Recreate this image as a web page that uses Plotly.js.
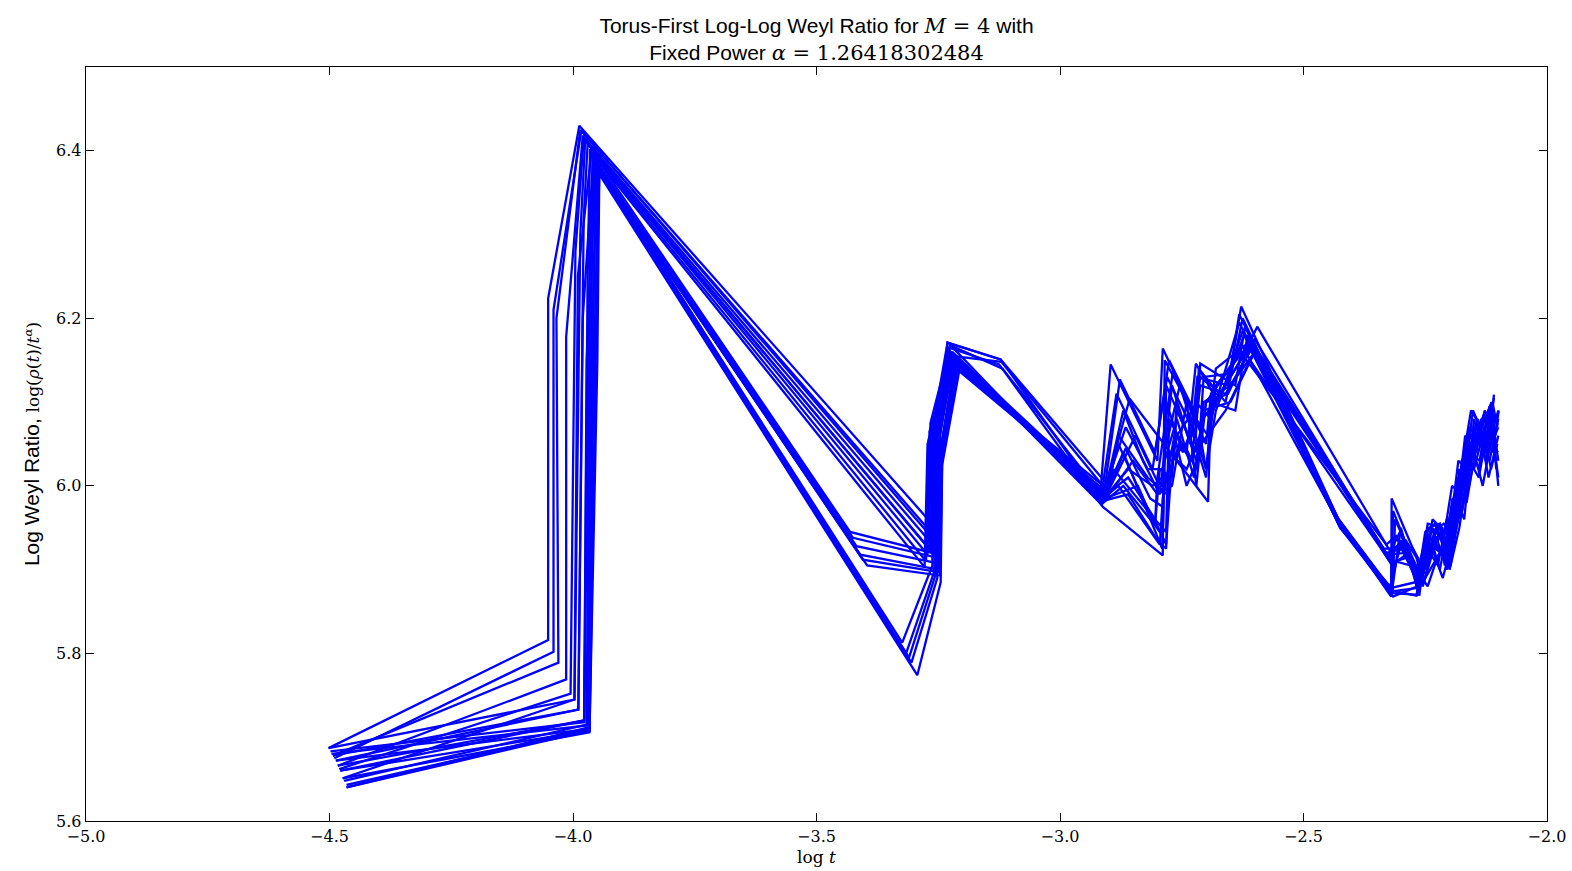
<!DOCTYPE html>
<html>
<head>
<meta charset="utf-8">
<script src="https://cdn.plot.ly/plotly-3.0.1.min.js"></script>
<style>html,body{margin:0;padding:0;background:#fff;}#chart{width:1572px;height:871px;}</style>
</head>
<body>
<div id="chart"></div>
<script>
// Series: log t (x) and log Weyl ratio (y) for each of 20 runs
const x01 = [-4.502,-4.051,-4.051,-3.987,-3.248,-3.246,-3.231,-3.122,-2.918,-2.896,-2.800,-2.789,-2.712,-2.705,-2.651,-2.628,-2.426,-2.320,-2.319,-2.268,-2.255,-2.230,-2.200,-2.185,-2.170,-2.150,-2.120,-2.109];
const y01 = [5.687,5.816,6.224,6.430,5.945,6.083,6.171,6.151,5.985,6.145,6.030,6.164,6.070,6.130,6.134,6.214,5.957,5.870,5.985,5.915,5.880,5.930,5.910,6.010,6.000,6.060,6.040,6.109];
const x02 = [-4.493,-4.030,-4.034,-3.985,-3.255,-3.253,-3.228,-3.125,-2.912,-2.789,-2.785,-2.720,-2.715,-2.660,-2.625,-2.430,-2.318,-2.268,-2.245,-2.215,-2.200,-2.180,-2.160,-2.140,-2.115,-2.100];
const y02 = [5.678,5.789,6.200,6.425,5.938,6.070,6.165,6.145,5.975,5.917,6.150,6.080,6.140,6.100,6.200,5.962,5.875,5.869,5.955,5.950,5.900,5.950,6.030,6.010,6.090,6.000];
const x03 = [-4.483,-4.014,-4.014,-3.980,-3.262,-3.258,-3.222,-2.910,-2.877,-2.805,-2.780,-2.721,-2.712,-2.640,-2.620,-2.425,-2.322,-2.300,-2.260,-2.240,-2.220,-2.190,-2.170,-2.150,-2.125,-2.100];
const y03 = [5.666,5.769,6.178,6.418,5.930,6.060,6.160,5.990,6.127,6.040,6.130,6.060,6.146,6.120,6.190,5.950,5.880,5.930,5.890,5.940,5.900,5.990,5.960,6.080,6.040,6.090];
const x04 = [-4.473,-3.997,-3.985,-3.975,-3.268,-3.266,-3.225,-2.915,-2.857,-2.696,-2.690,-2.640,-2.615,-2.335,-2.300,-2.250,-2.225,-2.205,-2.180,-2.160,-2.140,-2.125,-2.105];
const y04 = [5.651,5.745,6.300,6.412,5.925,6.075,6.168,5.980,6.104,5.981,6.100,6.090,6.180,5.925,5.925,5.890,5.955,5.930,5.990,6.050,6.020,6.080,6.050];
const x05 = [-4.487,-3.989,-3.978,-3.970,-3.272,-3.268,-3.220,-3.120,-2.905,-2.880,-2.805,-2.800,-2.768,-2.700,-2.690,-2.630,-2.330,-2.310,-2.262,-2.235,-2.210,-2.195,-2.175,-2.160,-2.135,-2.112,-2.102];
const y05 = [5.672,5.733,6.320,6.408,5.918,6.065,6.155,6.148,5.995,6.050,5.953,6.010,6.137,6.050,6.110,6.160,5.930,5.940,5.880,5.960,5.945,6.000,5.990,6.070,6.050,6.100,6.070];
const x06 = [-4.478,-3.977,-3.970,-3.965,-3.275,-3.270,-3.215,-2.908,-2.870,-2.790,-2.785,-2.754,-2.700,-2.680,-2.610,-2.328,-2.290,-2.255,-2.240,-2.215,-2.195,-2.180,-2.160,-2.140,-2.118,-2.100];
const y06 = [5.660,5.720,6.250,6.402,5.910,6.055,6.150,5.990,6.040,5.925,6.040,6.120,6.020,6.120,6.170,5.918,5.920,5.885,5.900,5.925,5.920,6.020,6.000,6.060,6.030,6.080];
const x07 = [-4.465,-3.966,-3.963,-3.960,-3.278,-3.272,-3.212,-2.910,-2.860,-2.810,-2.770,-2.760,-2.720,-2.700,-2.640,-2.600,-2.325,-2.280,-2.248,-2.232,-2.212,-2.190,-2.175,-2.150,-2.132,-2.110];
const y07 = [5.640,5.708,6.200,6.396,5.903,6.050,6.145,5.985,6.020,6.000,6.020,6.100,6.030,6.100,6.150,6.175,5.912,5.905,5.895,5.945,5.955,5.940,6.030,6.040,6.000,6.070];
const x08 = [-4.502,-3.997,-3.990,-3.962,-3.431,-3.262,-3.258,-3.231,-3.122,-2.900,-2.880,-2.820,-2.780,-2.760,-2.737,-2.700,-2.690,-2.620,-2.595,-2.322,-2.290,-2.258,-2.228,-2.205,-2.188,-2.168,-2.145,-2.128,-2.105];
const y08 = [5.687,5.745,6.250,6.400,5.945,5.920,6.080,6.171,6.151,6.000,6.060,6.010,5.990,6.060,6.080,6.010,6.090,6.160,6.190,5.922,5.935,5.905,5.940,5.900,5.960,6.060,6.040,6.090,6.060];
const x09 = [-4.493,-3.989,-3.980,-3.958,-3.425,-3.258,-3.254,-3.226,-2.905,-2.850,-2.800,-2.770,-2.740,-2.720,-2.705,-2.650,-2.600,-2.428,-2.317,-2.312,-2.265,-2.250,-2.222,-2.198,-2.178,-2.158,-2.138,-2.118,-2.104];
const y09 = [5.678,5.733,6.200,6.392,5.938,5.915,6.060,6.160,5.985,6.030,5.990,6.000,6.100,6.000,6.090,6.100,6.160,5.955,5.872,5.960,5.900,5.935,5.925,5.905,5.980,6.040,6.030,6.095,6.020];
const x10 = [-4.483,-3.977,-3.972,-3.955,-3.418,-3.255,-3.250,-3.218,-2.912,-2.865,-2.820,-2.790,-2.760,-2.725,-2.710,-2.660,-2.610,-2.320,-2.285,-2.245,-2.225,-2.200,-2.185,-2.165,-2.145,-2.122,-2.101];
const y10 = [5.666,5.720,6.150,6.388,5.928,5.908,6.050,6.150,5.990,6.070,6.020,6.020,6.080,6.010,6.050,6.090,6.150,5.908,5.915,5.880,5.915,5.940,5.990,5.980,6.050,6.060,6.040];
const x11 = [-4.478,-3.966,-3.962,-3.952,-3.410,-3.250,-3.246,-3.214,-2.908,-2.890,-2.805,-2.782,-2.776,-2.740,-2.721,-2.675,-2.628,-2.424,-2.322,-2.270,-2.243,-2.220,-2.210,-2.192,-2.172,-2.152,-2.130,-2.115,-2.100];
const y11 = [5.660,5.708,6.100,6.382,5.918,5.900,6.040,6.145,5.988,6.020,5.960,5.945,6.080,6.040,6.146,6.100,6.170,5.952,5.878,5.885,5.950,5.955,5.905,5.950,6.000,6.090,6.060,6.070,6.010];
const x12 = [-4.465,-3.966,-3.960,-3.948,-3.396,-3.246,-3.242,-3.210,-2.900,-2.845,-2.800,-2.789,-2.754,-2.730,-2.712,-2.660,-2.605,-2.318,-2.275,-2.252,-2.236,-2.214,-2.196,-2.180,-2.162,-2.142,-2.120,-2.100];
const y12 = [5.640,5.712,6.050,6.378,5.905,5.893,6.030,6.140,5.995,6.060,6.005,6.000,6.050,6.030,6.120,6.110,6.165,5.905,5.925,5.900,5.925,5.890,5.930,6.000,6.010,6.080,6.010,6.060];
const x13 = [-4.498,-3.977,-3.965,-3.958,-3.324,-3.262,-3.262,-3.228,-2.915,-2.870,-2.805,-2.789,-2.782,-2.737,-2.721,-2.690,-2.632,-2.427,-2.320,-2.300,-2.264,-2.238,-2.216,-2.200,-2.182,-2.165,-2.145,-2.125,-2.109];
const y13 = [5.683,5.718,6.300,6.390,5.813,5.905,6.060,6.162,5.978,6.000,5.953,5.940,6.120,6.060,6.100,6.080,6.195,5.958,5.868,5.950,5.872,5.930,5.945,5.920,5.970,6.050,6.070,6.050,6.105];
const x14 = [-4.487,-3.966,-3.958,-3.950,-3.316,-3.258,-3.256,-3.220,-2.912,-2.860,-2.800,-2.782,-2.776,-2.740,-2.712,-2.700,-2.680,-2.622,-2.425,-2.318,-2.262,-2.246,-2.226,-2.206,-2.190,-2.170,-2.150,-2.132,-2.112,-2.099];
const y14 = [5.672,5.710,6.250,6.382,5.800,5.898,6.045,6.155,5.982,5.990,5.935,5.925,6.040,6.020,6.060,6.020,6.090,6.180,5.955,5.872,5.870,5.940,5.950,5.915,5.965,6.040,6.020,6.060,6.040,6.090];
const x15 = [-4.473,-3.966,-3.952,-3.946,-3.305,-3.252,-3.248,-3.216,-2.908,-2.840,-2.805,-2.795,-2.770,-2.760,-2.720,-2.706,-2.650,-2.612,-2.330,-2.295,-2.256,-2.232,-2.212,-2.194,-2.174,-2.155,-2.135,-2.115,-2.102];
const y15 = [5.651,5.706,6.200,6.376,5.789,5.890,6.035,6.148,5.985,6.000,5.953,6.020,6.010,6.090,6.040,6.080,6.130,6.165,5.920,5.925,5.895,5.935,5.915,5.985,5.970,6.030,6.080,6.020,6.050];
const x16 = [-4.465,-3.966,-3.950,-3.946,-3.293,-3.245,-3.242,-3.207,-2.905,-2.860,-2.810,-2.782,-2.770,-2.745,-2.721,-2.705,-2.650,-2.600,-2.424,-2.316,-2.266,-2.242,-2.218,-2.204,-2.186,-2.166,-2.148,-2.128,-2.112,-2.100];
const y16 = [5.643,5.709,6.150,6.372,5.774,5.885,6.025,6.137,5.990,6.010,5.965,5.930,6.030,6.050,6.020,6.100,6.120,6.160,5.950,5.868,5.880,5.920,5.940,5.905,5.950,6.000,6.060,6.040,6.080,6.030];
const x17 = [-4.490,-4.040,-4.040,-3.983,-3.258,-3.255,-3.226,-3.118,-2.915,-2.884,-2.810,-2.776,-2.725,-2.718,-2.655,-2.632,-2.428,-2.320,-2.316,-2.272,-2.258,-2.236,-2.214,-2.196,-2.176,-2.156,-2.134,-2.114,-2.104];
const y17 = [5.675,5.802,6.210,6.424,5.935,6.078,6.168,6.140,5.990,6.110,6.020,6.150,6.090,6.130,6.120,6.205,5.960,5.876,5.970,5.905,5.885,5.950,5.935,5.970,6.020,6.090,6.070,6.100,6.040];
const x18 = [-4.480,-4.005,-3.995,-3.978,-3.265,-3.262,-3.218,-2.912,-2.870,-2.830,-2.795,-2.770,-2.733,-2.712,-2.668,-2.625,-2.327,-2.302,-2.266,-2.246,-2.224,-2.206,-2.188,-2.168,-2.146,-2.126,-2.106];
const y18 = [5.662,5.752,6.280,6.415,5.922,6.068,6.158,5.982,6.090,6.030,5.990,6.120,6.050,6.130,6.110,6.185,5.915,5.945,5.890,5.925,5.905,5.960,5.945,6.020,6.075,6.030,6.085];
const x19 = [-4.470,-3.972,-3.966,-3.955,-3.405,-3.248,-3.244,-3.212,-2.903,-2.865,-2.815,-2.789,-2.782,-2.748,-2.721,-2.696,-2.680,-2.615,-2.426,-2.319,-2.268,-2.250,-2.230,-2.208,-2.190,-2.168,-2.150,-2.130,-2.112,-2.101];
const y19 = [5.648,5.715,6.180,6.385,5.912,5.897,6.035,6.142,5.992,6.045,5.985,5.975,6.100,6.040,6.080,6.060,6.140,6.170,5.953,5.874,5.878,5.945,5.955,5.925,5.980,6.010,6.050,6.085,6.050,6.075];
const x20 = [-4.496,-3.970,-3.962,-3.952,-3.310,-3.255,-3.252,-3.222,-2.910,-2.880,-2.795,-2.789,-2.765,-2.740,-2.712,-2.700,-2.655,-2.608,-2.324,-2.300,-2.262,-2.240,-2.218,-2.200,-2.182,-2.162,-2.140,-2.118,-2.100];
const y20 = [5.680,5.714,6.280,6.386,5.795,5.895,6.040,6.152,5.986,6.000,5.930,5.985,6.060,6.000,6.040,6.100,6.110,6.168,5.914,5.935,5.885,5.930,5.920,5.945,6.030,6.020,6.070,6.045,6.070];

const xTickVals = [-5.0,-4.5,-4.0,-3.5,-3.0,-2.5,-2.0];
const yTickVals = [5.6,5.8,6.0,6.2,6.4];

const seriesX = [x01,x02,x03,x04,x05,x06,x07,x08,x09,x10,x11,x12,x13,x14,x15,x16,x17,x18,x19,x20];
const seriesY = [y01,y02,y03,y04,y05,y06,y07,y08,y09,y10,y11,y12,y13,y14,y15,y16,y17,y18,y19,y20];

const traces = seriesX.map((xs, i) => ({
  x: xs, y: seriesY[i], type: 'scatter', mode: 'lines',
  line: {color: '#0000ff', width: 2.3}, showlegend: false, hoverinfo: 'skip'
}));

const serif = "'DejaVu Serif', 'Liberation Serif', serif";
const sans = "'Liberation Sans', Arial, sans-serif";
const m = s => '<span style="font-family:DejaVu Serif">' + s + '</span>';
const ms = s => '<span style="font-family:DejaVu Serif;font-size:17px">' + s + '</span>';

const layout = {
  width: 1572, height: 871,
  margin: {l: 86, r: 25, t: 67, b: 50},
  paper_bgcolor: '#ffffff', plot_bgcolor: '#ffffff',
  font: {family: sans, color: '#000'},
  title: {
    text: 'Torus-First Log-Log Weyl Ratio for ' + m('<i>M</i> = 4') + ' with<br>Fixed Power ' + m('<i>α</i> = 1.26418302484'),
    x: 0.5, xref: 'paper', xanchor: 'center',
    y: 0.962, yref: 'container', yanchor: 'top',
    font: {family: sans, size: 21, color: '#000'}
  },
  xaxis: {
    range: [-5, -2], tickvals: xTickVals, tickformat: '.1f',
    showgrid: false, zeroline: false, showline: true, mirror: 'ticks',
    linecolor: '#000', linewidth: 1.3, ticks: 'inside', ticklen: 8, tickwidth: 1, tickcolor: '#000',
    tickfont: {family: serif, size: 16, color: '#000'},
    title: {text: m('log <i>t</i>'), font: {family: serif, size: 17, color: '#000'}, standoff: 6}
  },
  yaxis: {
    range: [5.6, 6.5], tickvals: yTickVals, tickformat: '.1f',
    showgrid: false, zeroline: false, showline: true, mirror: 'ticks',
    linecolor: '#000', linewidth: 1.3, ticks: 'inside', ticklen: 8, tickwidth: 1, tickcolor: '#000',
    tickfont: {family: serif, size: 16, color: '#000'},
    title: {text: 'Log Weyl Ratio, ' + ms('log(<i>ρ</i>(<i>t</i>)/<i>t</i><sup><i>α</i></sup>)'), font: {family: sans, size: 21, color: '#000'}, standoff: 10}
  }
};

Plotly.newPlot('chart', traces, layout, {displayModeBar: false, staticPlot: true});
</script>
</body>
</html>
